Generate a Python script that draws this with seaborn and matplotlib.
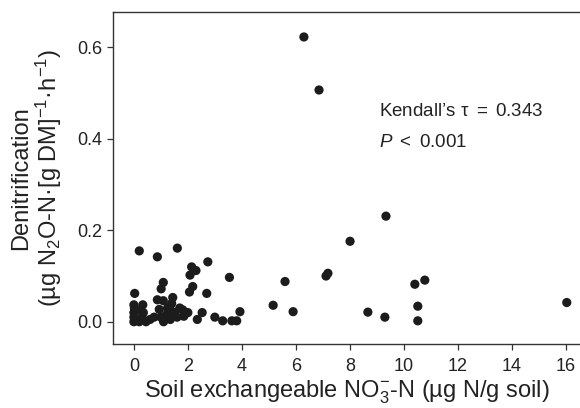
import numpy as np
import pandas as pd
import matplotlib
matplotlib.use('Agg')
import matplotlib.pyplot as plt
import seaborn as sns

# soil nitrate (x) vs denitrification (y)
nitrate = [
    6.30, 6.86, 9.34, 8.01, 7.12, 7.19, 5.60, 5.90, 8.67, 9.30,
    10.41, 10.78, 10.52, 10.52, 16.04, 5.16,
    0.20, 0.87, 1.61, 2.14, 2.30, 2.08, 2.74, 3.54, 1.09, 1.01,
    0.03, 2.18, 2.06, 2.70, 0.87, 1.09, 1.44, 0.33, 0.00, 0.94,
    1.34, 1.81, 2.53, 3.93, 2.35, 3.00, 3.29, 3.63, 3.81,
    0.00, 0.00, 0.00, 0.02, 0.05, 0.20, 0.30, 0.45, 0.60, 0.75,
    0.10, 0.35, 1.00, 1.10, 1.20, 1.35, 1.50, 1.60, 1.70, 1.85,
    1.25, 1.40, 2.00,
]
denit = [
    0.623, 0.507, 0.231, 0.176, 0.100, 0.106, 0.088, 0.022, 0.021, 0.010,
    0.082, 0.091, 0.034, 0.002, 0.042, 0.036,
    0.155, 0.142, 0.161, 0.120, 0.112, 0.102, 0.131, 0.097, 0.086, 0.072,
    0.062, 0.077, 0.065, 0.062, 0.048, 0.046, 0.053, 0.037, 0.037, 0.027,
    0.034, 0.026, 0.020, 0.022, 0.005, 0.010, 0.002, 0.002, 0.002,
    0.000, 0.010, 0.020, 0.030, 0.005, 0.000, 0.010, 0.000, 0.005, 0.010,
    0.025, 0.020, 0.010, 0.000, 0.015, 0.005, 0.020, 0.010, 0.030, 0.012,
    0.030, 0.040, 0.020,
]
x_ticks = [0, 2, 4, 6, 8, 10, 12, 14, 16]
y_ticks = [0.0, 0.2, 0.4, 0.6]

df = pd.DataFrame({'nitrate': nitrate, 'denit': denit})

sns.set_style('ticks')
plt.rcParams['font.family'] = ['Liberation Sans', 'DejaVu Sans']
plt.rcParams['mathtext.fontset'] = 'custom'
plt.rcParams['mathtext.rm'] = 'Liberation Sans'
plt.rcParams['mathtext.it'] = 'Liberation Sans:italic'

fig = plt.figure(figsize=(5.8, 4.08), dpi=100)
ax = fig.add_axes([0.195, 0.157, 0.805, 0.814])

sns.scatterplot(data=df, x='nitrate', y='denit', ax=ax, s=44,
                color='#1c1c1c', edgecolor='none', linewidth=0)

ax.set_xlim(-0.77, 16.53)
ax.set_ylim(-0.0486, 0.678)
ax.set_xticks(x_ticks)
ax.set_yticks(y_ticks)
ax.set_xticklabels([str(t) for t in x_ticks])
ax.set_yticklabels([f'{t:.1f}' for t in y_ticks])
ax.tick_params(labelsize=13, length=4, width=0.9, color='#333333',
               labelcolor='#222222', pad=4)
ax.tick_params(axis='x', pad=6)

for side in ['left', 'bottom', 'top']:
    ax.spines[side].set_visible(True)
    ax.spines[side].set_color('#333333')
    ax.spines[side].set_linewidth(1.0)
ax.spines['right'].set_visible(False)

ax.set_xlabel('Soil exchangeable NO$_3^{-}$-N (µg N/g soil)',
              fontsize=17, color='#222222', labelpad=3)
ax.set_ylabel('Denitrification\n(µg N$_2$O-N·[g DM]$^{-1}$·h$^{-1}$)',
              fontsize=17, color='#222222', labelpad=9.5, linespacing=1.05)

ax.text(9.08, 0.459, "Kendall’s τ $=$ 0.343", fontsize=13.5,
        color='#222222', va='center', ha='left')
ax.text(9.08, 0.393, '$P$ $<$ 0.001', fontsize=13.5,
        color='#222222', va='center', ha='left')

fig.savefig('out.png', dpi=100)
